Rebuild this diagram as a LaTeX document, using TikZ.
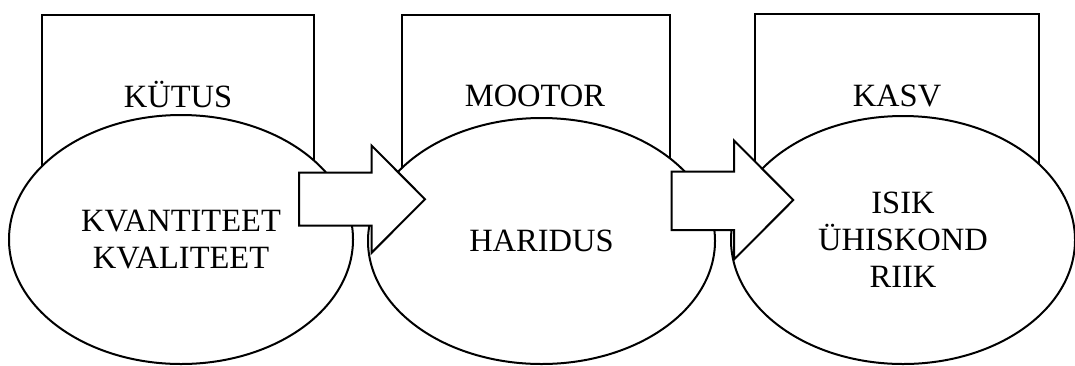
\documentclass[tikz,border=0pt]{standalone}
\usepackage{fontspec}
\setmainfont{Liberation Serif}
\usepackage{tikz}
\usetikzlibrary{shapes.geometric}

\begin{document}
\begin{tikzpicture}[
  x=1pt, y=-1pt,
  font=\fontsize{32.5}{37}\selectfont,
  box/.style={draw, line width=2pt, fill=white, inner sep=0pt},
  oval/.style={ellipse, draw, line width=2pt, fill=white, align=center, inner sep=0pt},
  lbl/.style={anchor=base, inner sep=0pt},
  blk/.style={draw, line width=2pt, fill=white, line join=miter}
]
\useasboundingbox[fill=white] (0,0) rectangle (1075,365);

% Upper boxes
\node[box, minimum width=272pt, minimum height=185pt] (kytusbox) at (178,107.5) {};
\node[box, minimum width=268pt, minimum height=185pt] (mootorbox) at (535.5,107.5) {};
\node[box, minimum width=284pt, minimum height=186pt] (kasvbox) at (897,107) {};

\node[lbl] (kytus) at (178,107) {KÜTUS};
\node[lbl] (mootor) at (535,106) {MOOTOR};
\node[lbl] (kasv) at (897,106) {KASV};

% Ellipses in front of the boxes
\node[oval, minimum width=344pt, minimum height=249pt] (kvant) at (181,239.5) {KVANTITEET\\KVALITEET};
\node[oval, minimum width=347pt, minimum height=246pt] (haridus) at (541.5,241) {HARIDUS};
\node[oval, minimum width=344pt, minimum height=248pt] (isik) at (903,240) {ISIK\\ÜHISKOND\\RIIK};

% Block arrows between the ellipses
\draw[blk] (299,172.7) -- (371.7,172.7) -- (371.7,145.7) -- (425,199.2)
  -- (371.7,252.7) -- (371.7,225.7) -- (299,225.7) -- cycle;
\draw[blk] (671.7,171.7) -- (734,171.7) -- (734,140.5) -- (793.3,200)
  -- (734,259.5) -- (734,230) -- (671.7,230) -- cycle;

\end{tikzpicture}
\end{document}
